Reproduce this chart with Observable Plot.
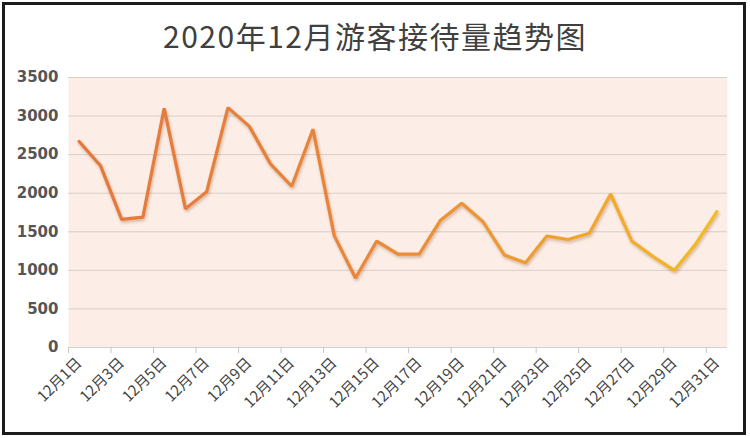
<!DOCTYPE html>
<html>
<head>
<meta charset="utf-8">
<script src="https://cdn.jsdelivr.net/npm/d3@7"></script>
<script src="https://cdn.jsdelivr.net/npm/@observablehq/plot@0.6"></script>
<style>
  body { margin: 0; background: #fff; }
  #wrap { position: relative; width: 750px; height: 438px; overflow: hidden; background: #fff; }
  #border { position: absolute; left: 2px; top: 2px; width: 738px; height: 427px; border: 3px solid #1b1b1b; pointer-events: none; }
  #title { position: absolute; left: 0; top: 0; width: 750px; height: 62px; text-align: center;
           font-family: "Noto Sans CJK SC", sans-serif; font-size: 30px; font-weight: 400;
           color: #404040; line-height: 70px; letter-spacing: 1.5px; }
  #chart { position: absolute; left: 0; top: 62px; }
</style>
</head>
<body>
<div id="wrap">
  <div id="title">2020年12月游客接待量趋势图</div>
  <div id="chart"></div>
  <div id="border"></div>
</div>
<script>
const dates = ["12月1日","12月2日","12月3日","12月4日","12月5日","12月6日","12月7日","12月8日","12月9日","12月10日",
               "12月11日","12月12日","12月13日","12月14日","12月15日","12月16日","12月17日","12月18日","12月19日","12月20日",
               "12月21日","12月22日","12月23日","12月24日","12月25日","12月26日","12月27日","12月28日","12月29日","12月30日","12月31日"];
const visitors = [2670, 2360, 1660, 1690, 3100, 1800, 2020, 3110, 2870, 2380,
                  2090, 2830, 1450, 900, 1380, 1210, 1210, 1650, 1870, 1630,
                  1200, 1100, 1445, 1400, 1480, 1990, 1380, 1180, 1000, 1340, 1760];
const yTicks = [0, 500, 1000, 1500, 2000, 2500, 3000, 3500];

const data = dates.map((d, i) => ({day: i + 1, label: d, value: visitors[i]}));
const labelDays = data.filter((d, i) => i % 2 === 0).map(d => d.day);
const boundaries = labelDays.map(d => d - 0.5);

const plot = Plot.plot({
  width: 750,
  height: 376,
  marginTop: 15,
  marginBottom: 91,
  marginLeft: 68,
  marginRight: 23,
  x: {type: "linear", domain: [0.5, dates.length + 0.5]},
  y: {domain: [0, 3500]},
  style: {fontFamily: "'Noto Sans CJK SC', sans-serif", background: "transparent", overflow: "visible"},
  marks: [
    Plot.frame({fill: "#FCEEE6", stroke: null}),
    Plot.ruleY(yTicks.filter(v => v > 0), {stroke: "#D8CEC8", strokeWidth: 1}),
    Plot.ruleY([0], {stroke: "#D2D2D2", strokeWidth: 1}),
    Plot.axisY({ticks: yTicks, tickFormat: d => String(d), tickSize: 0, tickPadding: 10,
                fontSize: 15, fontWeight: "bold", fontFamily: "DejaVu Sans", color: "#555", label: null}),
    Plot.axisX({ticks: boundaries, tickFormat: () => "", tickSize: 6, color: "#C6C6C6", label: null}),
    Plot.axisX({ticks: labelDays, tickFormat: d => dates[d - 1], tickSize: 0, tickPadding: 13,
                tickRotate: -45, fontSize: 15, color: "#444", label: null}),
    Plot.line(data, {x: "day", y: "value", stroke: "url(#lineGrad)", strokeWidth: 3.2,
                     strokeLinejoin: "miter", strokeLinecap: "round"})
  ]
});

const svg = d3.select(plot);
const defs = svg.insert("defs", ":first-child");
const lg = defs.append("linearGradient").attr("id", "lineGrad")
  .attr("x1", "0%").attr("x2", "100%").attr("y1", "0%").attr("y2", "0%");
[["0%", "#E5773B"], ["45%", "#E9873A"], ["70%", "#EE9C31"], ["88%", "#F2AE27"], ["100%", "#F3BD22"]]
  .forEach(([o, c]) => lg.append("stop").attr("offset", o).attr("stop-color", c));
svg.selectAll("g[aria-label=line] path")
  .style("filter", "drop-shadow(1px 2px 1.5px rgba(140,70,20,0.35))");

document.getElementById("chart").appendChild(plot);
</script>
</body>
</html>
